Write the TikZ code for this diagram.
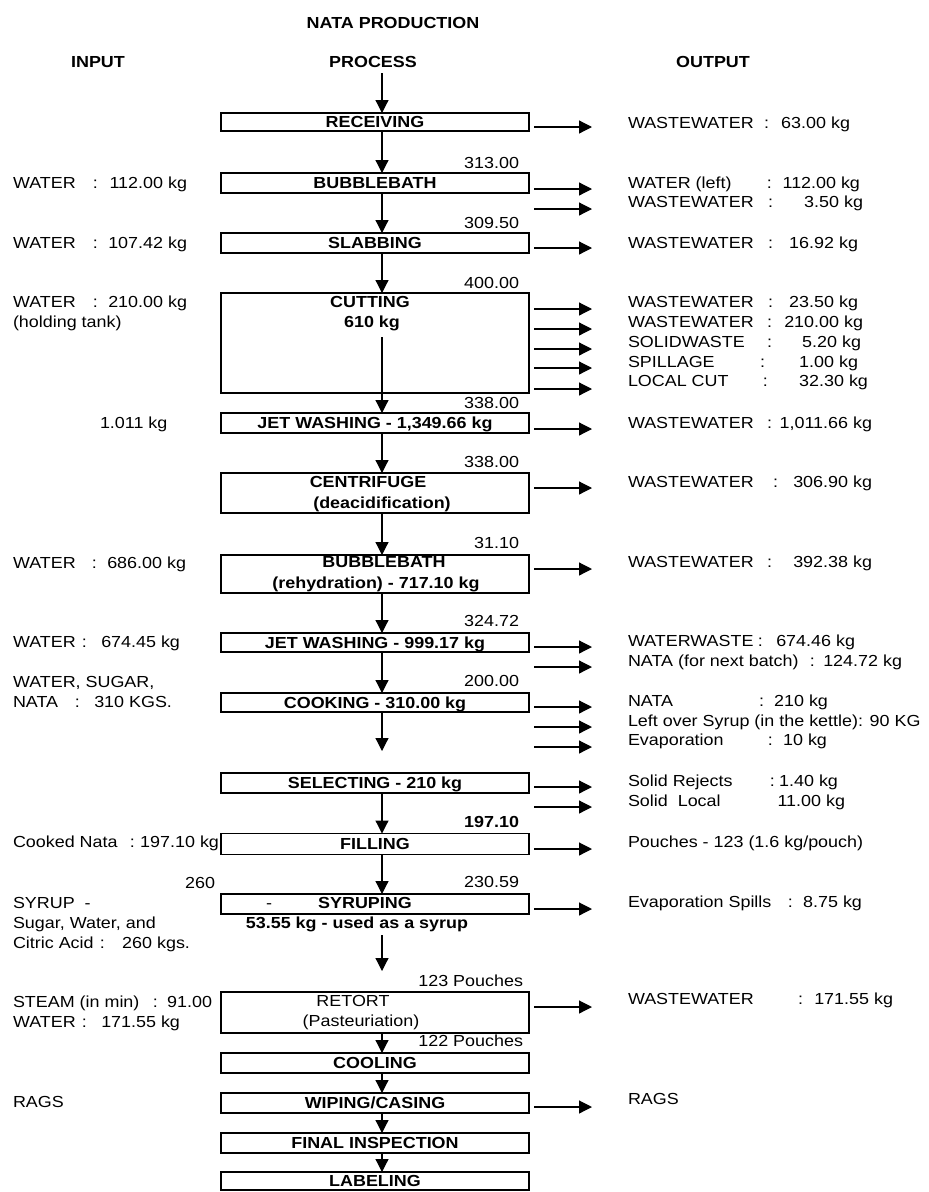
\documentclass[tikz,border=0pt]{standalone}
\usepackage{fontspec}
\setmainfont{Liberation Sans}[FakeStretch=1.12]
\usetikzlibrary{arrows.meta}
\newcommand{\kv}[4]{\makebox[#1pt][l]{#2}:\makebox[#3pt][r]{#4}}
\newcommand{\oarr}[2]{\coordinate (#1a) at (534,-#2); \coordinate (#1b) at (592,-#2); \draw[flow] (#1a) -- (#1b);}
\begin{document}
\begin{tikzpicture}[x=1pt,y=1pt,
  every node/.style={inner sep=0pt, outer sep=0pt, font=\fontsize{16}{20}\selectfont, text height=11.5pt, text depth=0pt},
  lt/.style={anchor=west},
  rt/.style={anchor=east},
  pbox/.style={draw, line width=1.3pt, minimum width=308pt, font=\bfseries\fontsize{16}{20}\selectfont},
  hd/.style={font=\bfseries\fontsize{16}{20}\selectfont},
  flow/.style={line width=1.2pt, -{Triangle[length=13pt,width=13pt]}}]
\useasboundingbox[fill=white] (0,0) rectangle (929,-1192);

% headings
\node[hd] (title) at (393,-23) {NATA PRODUCTION};
\node[hd] (hin) at (98,-62) {INPUT};
\node[hd] (hproc) at (373,-62) {PROCESS};
\node[hd] (hout) at (713,-62) {OUTPUT};

% process boxes
\node[pbox, minimum height=18pt] (recv) at (375,-122) {RECEIVING};
\node[pbox, minimum height=20pt] (bub1) at (375,-183) {BUBBLEBATH};
\node[pbox, minimum height=20pt] (slab) at (375,-243) {SLABBING};
\node[pbox, minimum height=100pt] (cut) at (375,-343) {};
\node[hd] (cutA) at (370,-302) {CUTTING};
\node[hd] (cutB) at (372,-322) {610 kg};
\node[pbox, minimum height=20pt] (jet1) at (375,-423) {JET WASHING - 1,349.66 kg};
\node[pbox, minimum height=40pt] (cent) at (375,-493) {};
\node[hd] (centA) at (368,-482) {CENTRIFUGE};
\node[hd] (centB) at (382,-503) {(deacidification)};
\node[pbox, minimum height=38pt] (bub2) at (375,-574) {};
\node[hd] (bub2A) at (384,-562) {BUBBLEBATH};
\node[hd] (bub2B) at (376,-583) {(rehydration) - 717.10 kg};
\node[pbox, minimum height=19pt] (jet2) at (375,-642.5) {JET WASHING - 999.17 kg};
\node[pbox, minimum height=19pt] (cook) at (375,-702.5) {COOKING - 310.00 kg};
\node[pbox, minimum height=20pt] (sel) at (375,-783) {SELECTING - 210 kg};
\node[pbox, minimum height=21pt] (fill) at (375,-844) {FILLING};
\node[pbox, minimum height=20pt] (syr) at (375,-904) {};
\node[hd] (syrA) at (365,-903) {SYRUPING};
\node (syrdash) at (269,-903) {-};
\node[hd] (syrnote) at (357,-923) {53.55 kg - used as a syrup};
\node[pbox, minimum height=41pt] (ret) at (375,-1012.5) {};
\node (retA) at (353,-1001) {RETORT};
\node (retB) at (361,-1021) {(Pasteuriation)};
\node[pbox, minimum height=20pt] (cool) at (375,-1063) {COOLING};
\node[pbox, minimum height=20pt] (wipe) at (375,-1103) {WIPING/CASING};
\node[pbox, minimum height=20pt] (fin) at (375,-1143) {FINAL INSPECTION};
\node[pbox, minimum height=18pt] (lab) at (375,-1181) {LABELING};

% main flow
\coordinate (ax) at (382,0);
\coordinate (start) at (382,-73);
\coordinate (cutin) at (382,-337);
\coordinate (cookend) at (382,-751);
\coordinate (syrs) at (382,-935);
\coordinate (syre) at (382,-971);
\draw[flow] (start) -- (recv.north -| ax);
\draw[flow] (recv.south -| ax) -- (bub1.north -| ax);
\draw[flow] (bub1.south -| ax) -- (slab.north -| ax);
\draw[flow] (slab.south -| ax) -- (cut.north -| ax);
\draw[flow] (cutin) -- (jet1.north -| ax);
\draw[flow] (jet1.south -| ax) -- (cent.north -| ax);
\draw[flow] (cent.south -| ax) -- (bub2.north -| ax);
\draw[flow] (bub2.south -| ax) -- (jet2.north -| ax);
\draw[flow] (jet2.south -| ax) -- (cook.north -| ax);
\draw[flow] (cook.south -| ax) -- (cookend);
\draw[flow] (sel.south -| ax) -- (fill.north -| ax);
\draw[flow] (fill.south -| ax) -- (syr.north -| ax);
\draw[flow] (syrs) -- (syre);
\draw[flow] (ret.south -| ax) -- (cool.north -| ax);
\draw[flow] (cool.south -| ax) -- (wipe.north -| ax);
\draw[flow] (wipe.south -| ax) -- (fin.north -| ax);
\draw[flow] (fin.south -| ax) -- (lab.north -| ax);

% quantities above boxes
\node[rt] (q1) at (519,-163) {313.00};
\node[rt] (q2) at (519,-223) {309.50};
\node[rt] (q3) at (519,-283) {400.00};
\node[rt] (q4) at (519,-403) {338.00};
\node[rt] (q5) at (519,-462) {338.00};
\node[rt] (q6) at (519,-543) {31.10};
\node[rt] (q7) at (519,-621) {324.72};
\node[rt] (q8) at (519,-681) {200.00};
\node[rt, hd] (q9) at (519,-822) {197.10};
\node[rt] (q10) at (519,-882) {230.59};
\node[rt] (q11) at (523,-981) {123 Pouches};
\node[rt] (q12) at (523,-1041) {122 Pouches};

% output arrows
\oarr{o1}{127}
\oarr{o2}{189}
\oarr{o3}{209}
\oarr{o4}{248}
\oarr{o5}{309}
\oarr{o6}{329}
\oarr{o7}{349}
\oarr{o8}{368}
\oarr{o9}{389}
\oarr{o10}{429}
\oarr{o11}{488}
\oarr{o12}{569}
\oarr{o13}{647}
\oarr{o14}{667}
\oarr{o15}{707}
\oarr{o16}{727}
\oarr{o17}{747}
\oarr{o18}{787}
\oarr{o19}{807}
\oarr{o20}{849}
\oarr{o21}{909}
\oarr{o22}{1007}
\oarr{o23}{1107}

% output texts
\node[lt] (t1) at (628,-123) {\kv{136}{WASTEWATER}{81}{63.00 kg}};
\node[lt] (t2) at (628,-183) {\kv{139}{WATER (left)}{88}{112.00 kg}};
\node[lt] (t3) at (628,-202) {\kv{140}{WASTEWATER}{90}{3.50 kg}};
\node[lt] (t4) at (628,-243) {\kv{140}{WASTEWATER}{85}{16.92 kg}};
\node[lt] (t5) at (628,-302) {\kv{140}{WASTEWATER}{85}{23.50 kg}};
\node[lt] (t6) at (628,-322) {\kv{139}{WASTEWATER}{91}{210.00 kg}};
\node[lt] (t7) at (628,-342) {\kv{139}{SOLIDWASTE}{89}{5.20 kg}};
\node[lt] (t8) at (628,-362) {\kv{132}{SPILLAGE}{93}{1.00 kg}};
\node[lt] (t9) at (628,-381) {\kv{135}{LOCAL CUT}{100}{32.30 kg}};
\node[lt] (t10) at (628,-423) {\kv{139}{WASTEWATER}{100}{1,011.66 kg}};
\node[lt] (t11) at (628,-482) {\kv{145}{WASTEWATER}{94}{306.90 kg}};
\node[lt] (t12) at (628,-562) {\kv{139}{WASTEWATER}{100}{392.38 kg}};
\node[lt] (t13) at (628,-641) {\kv{130}{WATERWASTE}{92}{674.46 kg}};
\node[lt] (t14) at (628,-661) {\kv{182}{NATA (for next batch)}{87}{124.72 kg}};
\node[lt] (t15) at (628,-701) {\kv{131}{NATA}{64}{210 kg}};
\node[lt] (t16) at (628,-721) {Left over Syrup (in the kettle): 90 KG};
\node[lt] (t17) at (628,-740) {\kv{140}{Evaporation}{54}{10 kg}};
\node[lt] (t18) at (628,-781) {\kv{142}{Solid Rejects}{63}{1.40 kg}};
\node[lt] (t19) at (628,-801) {\makebox[149pt][l]{Solid\ \ Local}\makebox[68pt][r]{11.00 kg}};
\node[lt] (t20) at (628,-842) {Pouches - 123 (1.6 kg/pouch)};
\node[lt] (t21) at (628,-902) {\kv{160}{Evaporation Spills}{69}{8.75 kg}};
\node[lt] (t22) at (628,-999) {\kv{170}{WASTEWATER}{90}{171.55 kg}};
\node[lt] (t23) at (628,-1099) {RAGS};

% input texts
\node[lt] (i1) at (13,-183) {\kv{80}{WATER}{89}{112.00 kg}};
\node[lt] (i2) at (13,-243) {\kv{80}{WATER}{89}{107.42 kg}};
\node[lt] (i3) at (13,-302) {\kv{80}{WATER}{89}{210.00 kg}};
\node[lt] (i4) at (13,-322) {(holding tank)};
\node[lt] (i5) at (100,-423) {1.011 kg};
\node[lt] (i6) at (13,-563) {\kv{79}{WATER}{89}{686.00 kg}};
\node[lt] (i7) at (13,-642) {\kv{69}{WATER}{93}{674.45 kg}};
\node[lt] (i8) at (13,-682) {WATER, SUGAR,};
\node[lt] (i9) at (13,-702) {\kv{62}{NATA}{92}{310 KGS.}};
\node[lt] (i10) at (13,-842) {\kv{117}{Cooked Nata}{84}{197.10 kg}};
\node[rt] (i11) at (215,-883) {260};
\node[lt] (i12) at (13,-903) {SYRUP\ \ -};
\node[lt] (i13) at (13,-923) {Sugar, Water, and};
\node[lt] (i14) at (13,-943) {\kv{87}{Citric Acid}{85}{260 kgs.}};
\node[lt] (i15) at (13,-1002) {\kv{140}{STEAM (in min)}{54}{91.00}};
\node[lt] (i16) at (13,-1022) {\kv{69}{WATER}{93}{171.55 kg}};
\node[lt] (i17) at (13,-1102) {RAGS};
\end{tikzpicture}
\end{document}
